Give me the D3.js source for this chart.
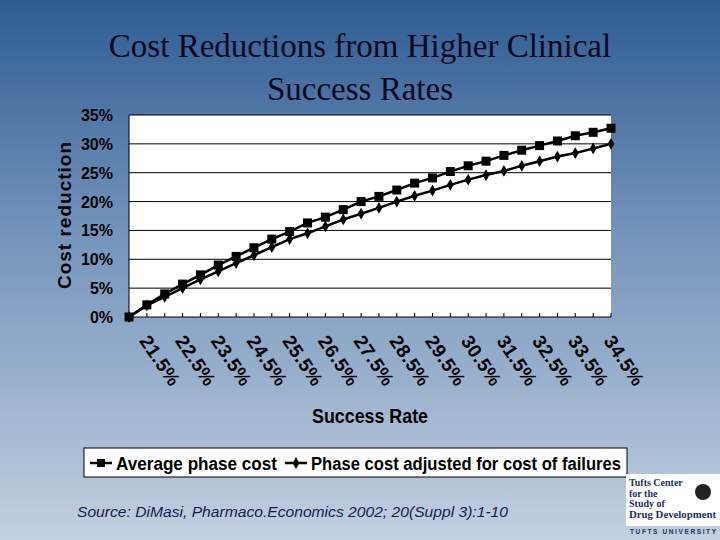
<!DOCTYPE html>
<html><head><meta charset="utf-8">
<script src="https://cdn.jsdelivr.net/npm/d3@7"></script>
<style>body{margin:0;}svg{display:block;}</style>
</head><body>
<svg id="c" width="720" height="540"></svg>
<script>
const categories = ["21.0%","21.5%","22.0%","22.5%","23.0%","23.5%","24.0%","24.5%","25.0%","25.5%","26.0%","26.5%","27.0%","27.5%","28.0%","28.5%","29.0%","29.5%","30.0%","30.5%","31.0%","31.5%","32.0%","32.5%","33.0%","33.5%","34.0%","34.5%"];
const averagePhaseCost = [0,2.1,4.0,5.7,7.3,9.0,10.5,12.0,13.5,14.8,16.3,17.3,18.6,20.0,20.9,22.0,23.2,24.1,25.2,26.2,27.0,28.0,28.9,29.7,30.5,31.4,32.0,32.7];
const adjustedPhaseCost = [0,2.0,3.5,5.0,6.5,7.9,9.35,10.7,12.1,13.5,14.5,15.7,16.9,17.9,18.9,20.0,21.0,21.9,22.9,23.8,24.6,25.3,26.2,27.0,27.8,28.4,29.2,30.0];
const yTicks = [0,5,10,15,20,25,30,35];
const xTickLabels = categories.filter((d,i)=>i%2===1);

const svg = d3.select("#c");
const defs = svg.append("defs");
const g = defs.append("linearGradient").attr("id","bg").attr("x1",0).attr("y1",0).attr("x2",0).attr("y2",1);
g.append("stop").attr("offset","0%").attr("stop-color","#2e5c92");
g.append("stop").attr("offset","45%").attr("stop-color","#7696bd");
g.append("stop").attr("offset","100%").attr("stop-color","#c3d0e0");
svg.append("rect").attr("width",720).attr("height",540).attr("fill","url(#bg)");

svg.append("text").attr("x",360).attr("y",57).attr("text-anchor","middle")
  .attr("font-family","Liberation Serif").attr("font-size",33).attr("fill","#080820").text("Cost Reductions from Higher Clinical");
svg.append("text").attr("x",360).attr("y",100).attr("text-anchor","middle")
  .attr("font-family","Liberation Serif").attr("font-size",33).attr("fill","#080820").text("Success Rates");

const L=129,R=611,T=115,B=317;
const x = d3.scalePoint().domain(categories).range([L,R]).padding(0);
const y = d3.scaleLinear().domain([0,35]).range([B,T]);

svg.append("rect").attr("x",L).attr("y",T).attr("width",R-L).attr("height",B-T).attr("fill","#fff");
svg.append("g").selectAll("line").data(yTicks.slice(1)).join("line")
  .attr("x1",L).attr("x2",R).attr("y1",d=>y(d)).attr("y2",d=>y(d)).attr("stroke","#000").attr("stroke-width",1);
svg.append("line").attr("x1",L).attr("x2",R).attr("y1",B).attr("y2",B).attr("stroke","#000");
svg.append("line").attr("x1",L).attr("x2",L).attr("y1",T).attr("y2",B).attr("stroke","#000");
svg.append("g").selectAll("line").data(categories).join("line")
  .attr("x1",d=>x(d)).attr("x2",d=>x(d)).attr("y1",B).attr("y2",B-4).attr("stroke","#000");

svg.append("g").selectAll("text").data(yTicks).join("text")
  .attr("x",113).attr("y",d=>y(d)+6).attr("text-anchor","end")
  .attr("font-family","Liberation Sans").attr("font-weight","bold").attr("font-size",16).attr("fill","#000")
  .text(d=>d+"%");

svg.append("g").selectAll("text").data(xTickLabels).join("text")
  .attr("transform",d=>`translate(${x(d)-8},${B+24}) rotate(56)`)
  .attr("font-family","Liberation Sans").attr("font-weight","bold").attr("font-size",19).attr("letter-spacing",0.5).attr("fill","#000")
  .text(d=>d);

svg.append("text").attr("transform","translate(370,423) scale(0.85,1)").attr("text-anchor","middle")
  .attr("font-family","Liberation Sans").attr("font-weight","bold").attr("font-size",21).attr("fill","#000").text("Success Rate");
svg.append("text").attr("transform","translate(71,215) rotate(-90)").attr("text-anchor","middle")
  .attr("font-family","Liberation Sans").attr("font-weight","bold").attr("font-size",19).attr("letter-spacing",1).attr("fill","#000").text("Cost reduction");

const line = d3.line().x((d,i)=>x(categories[i])).y(d=>y(d));
svg.append("path").datum(averagePhaseCost).attr("d",line).attr("fill","none").attr("stroke","#000").attr("stroke-width",2.5);
svg.append("path").datum(adjustedPhaseCost).attr("d",line).attr("fill","none").attr("stroke","#000").attr("stroke-width",2.5);
svg.append("g").selectAll("rect").data(averagePhaseCost).join("rect")
  .attr("x",(d,i)=>x(categories[i])-4.5).attr("y",d=>y(d)-4.5).attr("width",9).attr("height",9).attr("fill","#000");
const diamond = d3.symbol().type(d3.symbolDiamond).size(40);
svg.append("g").selectAll("path").data(adjustedPhaseCost).join("path")
  .attr("transform",(d,i)=>`translate(${x(categories[i])},${y(d)})`).attr("d",diamond).attr("fill","#000");

// legend
svg.append("rect").attr("x",84).attr("y",448).attr("width",543).attr("height",29).attr("fill","#fff").attr("stroke","#000");
svg.append("line").attr("x1",90).attr("x2",112).attr("y1",463).attr("y2",463).attr("stroke","#000").attr("stroke-width",2.5);
svg.append("rect").attr("x",97).attr("y",459).attr("width",8).attr("height",8).attr("fill","#000");
svg.append("text").attr("x",116).attr("y",470).attr("textLength",161).attr("lengthAdjust","spacingAndGlyphs").attr("font-family","Liberation Sans").attr("font-weight","bold").attr("font-size",18).text("Average phase cost");
svg.append("line").attr("x1",285).attr("x2",307).attr("y1",463).attr("y2",463).attr("stroke","#000").attr("stroke-width",2.5);
svg.append("path").attr("transform","translate(296,463)").attr("d",diamond).attr("fill","#000");
svg.append("text").attr("x",311).attr("y",470).attr("textLength",310).attr("lengthAdjust","spacingAndGlyphs").attr("font-family","Liberation Sans").attr("font-weight","bold").attr("font-size",18).text("Phase cost adjusted for cost of failures");

svg.append("text").attr("x",77).attr("y",517).attr("textLength",431).attr("lengthAdjust","spacingAndGlyphs").attr("font-family","Liberation Sans").attr("font-style","italic").attr("font-size",14).attr("fill","#1a1a50")
  .text("Source: DiMasi, Pharmaco.Economics 2002; 20(Suppl 3):1-10");

// logo
svg.append("rect").attr("x",626).attr("y",474).attr("width",94).attr("height",52).attr("fill","#fff");
["Tufts Center","for the","Study of"].forEach((t,i)=>
  svg.append("text").attr("x",629).attr("y",486+i*10.5).attr("font-family","Liberation Serif").attr("font-weight","bold").attr("font-size",10).attr("fill","#1c3260").text(t));
svg.append("text").attr("x",629).attr("y",517.5).attr("textLength",87).attr("lengthAdjust","spacingAndGlyphs").attr("font-family","Liberation Serif").attr("font-weight","bold").attr("font-size",10).attr("fill","#1c3260").text("Drug Development");
svg.append("circle").attr("cx",703).attr("cy",492).attr("r",8).attr("fill","#222");
svg.append("text").attr("x",630).attr("y",534).attr("textLength",86).attr("font-family","Liberation Sans").attr("font-weight","bold").attr("font-size",6.5).attr("fill","#1c3260").text("TUFTS UNIVERSITY");
</script>
</body></html>
